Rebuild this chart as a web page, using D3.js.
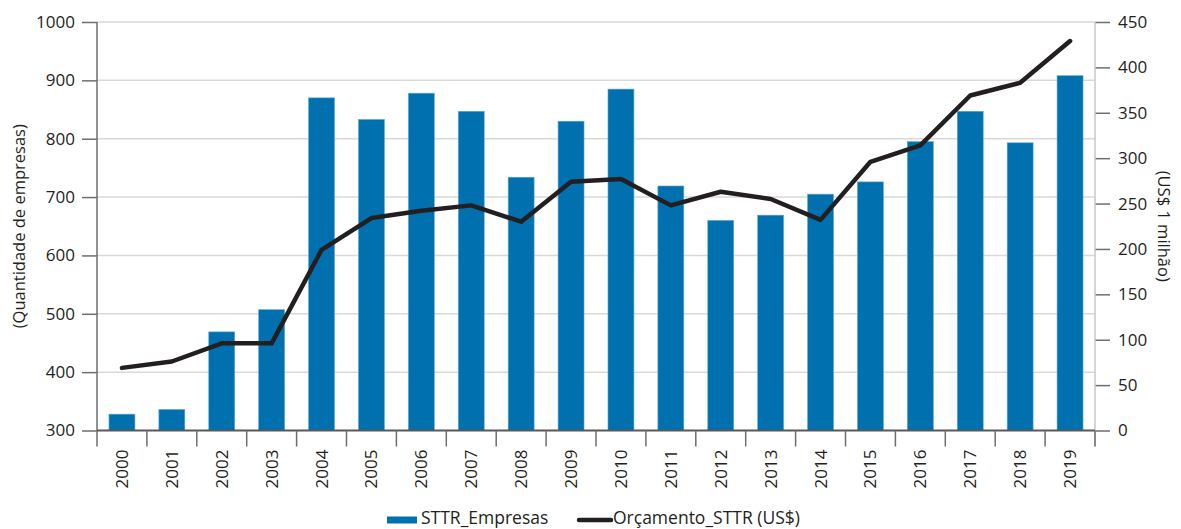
<!DOCTYPE html>
<html>
<head>
<meta charset="utf-8">
<script src="https://cdn.jsdelivr.net/npm/d3@7"></script>
<style>
  body { margin: 0; background: #fff; }
  svg text { font-family: "Open Sans", "Noto Sans", sans-serif; fill: #231f20; }
</style>
</head>
<body>
<div id="chart"></div>
<script>
// data
const years = ["2000", "2001", "2002", "2003", "2004", "2005", "2006", "2007", "2008", "2009",
               "2010", "2011", "2012", "2013", "2014", "2015", "2016", "2017", "2018", "2019"];
const empresas = [328, 336, 469, 507, 870, 833, 878, 847, 734, 830,
                  885, 719, 660, 669, 705, 726, 795, 847, 793, 908];
const orcamento = [69, 76, 96, 96, 199, 234, 242, 248, 230, 274,
                   277, 248, 263, 255, 232, 296, 314, 369, 383, 429];
const leftTicks = [300, 400, 500, 600, 700, 800, 900, 1000];
const rightTicks = [0, 50, 100, 150, 200, 250, 300, 350, 400, 450];

const W = 1181, H = 529;
const margin = { top: 22, right: 86, bottom: 98.5, left: 97 };
const innerW = W - margin.left - margin.right;
const innerH = H - margin.top - margin.bottom;

const svg = d3.select("#chart").append("svg")
    .attr("width", W)
    .attr("height", H);

const g = svg.append("g")
    .attr("transform", `translate(${margin.left},${margin.top})`);

const x = d3.scaleBand().domain(years).range([0, innerW]).paddingInner(0.48).paddingOuter(0.24);
const xb = d3.scaleBand().domain(years).range([0, innerW]); // tick positions at band edges
const yL = d3.scaleLinear().domain([300, 1000]).range([innerH, 0]);
const yR = d3.scaleLinear().domain([0, 450]).range([innerH, 0]);

// gridlines
g.append("g")
  .selectAll("line")
  .data(leftTicks.slice(1))
  .join("line")
    .attr("x1", 0)
    .attr("x2", innerW)
    .attr("y1", d => yL(d))
    .attr("y2", d => yL(d))
    .attr("stroke", "#d9d9d9")
    .attr("stroke-width", 1.5);

// bars
g.append("g")
  .selectAll("rect")
  .data(empresas)
  .join("rect")
    .attr("x", (d, i) => x(years[i]))
    .attr("y", d => yL(d))
    .attr("width", x.bandwidth())
    .attr("height", d => innerH - yL(d))
    .attr("fill", "#0071ae")
    .attr("stroke", "#5ea9d4")
    .attr("stroke-width", 0.6);

// line
const line = d3.line()
    .x((d, i) => xb(years[i]) + xb.bandwidth() / 2)
    .y(d => yR(d));

g.append("path")
    .datum(orcamento)
    .attr("d", line)
    .attr("fill", "none")
    .attr("stroke", "#231f20")
    .attr("stroke-width", 4.5)
    .attr("stroke-linejoin", "round")
    .attr("stroke-linecap", "round");

// left axis
const axL = g.append("g")
    .call(d3.axisLeft(yL).tickValues(leftTicks).tickFormat(d3.format("d")).tickSize(15).tickPadding(7));
axL.select(".domain").remove();
axL.append("line")
    .attr("x1", 0).attr("x2", 0)
    .attr("y1", 0).attr("y2", innerH + 16)
    .attr("stroke", "#6d6e71").attr("stroke-width", 1.5);
axL.selectAll(".tick line").attr("stroke", "#6d6e71").attr("stroke-width", 1.5);
axL.selectAll(".tick text").attr("font-size", 17).attr("fill", "#231f20");

// right axis
const axR = g.append("g")
    .attr("transform", `translate(${innerW},0)`)
    .call(d3.axisRight(yR).tickValues(rightTicks).tickFormat(d3.format("d")).tickSize(15).tickPadding(8));
axR.select(".domain").remove();
axR.append("line")
    .attr("x1", 0).attr("x2", 0)
    .attr("y1", 0).attr("y2", innerH + 16)
    .attr("stroke", "#c8c8c8").attr("stroke-width", 1.5);
axR.selectAll(".tick line").attr("stroke", "#6d6e71").attr("stroke-width", 1.5);
axR.selectAll(".tick text").attr("font-size", 17).attr("fill", "#231f20");

// bottom axis: baseline + ticks at band edges
const axB = g.append("g").attr("transform", `translate(0,${innerH})`);
axB.append("line")
    .attr("x1", 0).attr("x2", innerW)
    .attr("stroke", "#58595b").attr("stroke-width", 2);
axB.selectAll("line.edge")
  .data(years.slice(1).concat(["end"]))
  .join("line")
    .attr("class", "edge")
    .attr("x1", (d, i) => i < years.length - 1 ? xb(d) : innerW)
    .attr("x2", (d, i) => i < years.length - 1 ? xb(d) : innerW)
    .attr("y1", 0).attr("y2", 16)
    .attr("stroke", "#6d6e71").attr("stroke-width", 1.5);
axB.selectAll("text")
  .data(years)
  .join("text")
    .attr("transform", d => `translate(${xb(d) + xb.bandwidth() / 2},19) rotate(-90)`)
    .attr("text-anchor", "end")
    .attr("dy", "0.35em")
    .attr("font-size", 17)
    .text(d => d);

// axis titles
svg.append("text")
    .attr("transform", `translate(19,${margin.top + innerH / 2}) rotate(-90)`)
    .attr("text-anchor", "middle")
    .attr("dy", "0.35em")
    .attr("font-size", 16.5)
    .text("(Quantidade de empresas)");

svg.append("text")
    .attr("transform", `translate(1164,${margin.top + innerH / 2}) rotate(90)`)
    .attr("text-anchor", "middle")
    .attr("dy", "0.35em")
    .attr("font-size", 16.5)
    .text("(US$ 1 milhão)");

// legend
const leg = svg.append("g").attr("transform", "translate(387,520)");
leg.append("rect")
    .attr("x", 0).attr("y", -3.5)
    .attr("width", 30).attr("height", 7)
    .attr("fill", "#0071ae");
leg.append("text")
    .attr("x", 34).attr("y", 4)
    .attr("font-size", 17.5)
    .text("STTR_Empresas");
leg.append("line")
    .attr("x1", 192).attr("x2", 224)
    .attr("y1", 0).attr("y2", 0)
    .attr("stroke", "#231f20").attr("stroke-width", 4.5)
    .attr("stroke-linecap", "round");
leg.append("text")
    .attr("x", 226).attr("y", 4)
    .attr("font-size", 17.5)
    .text("Orçamento_STTR (US$)");
</script>
</body>
</html>
